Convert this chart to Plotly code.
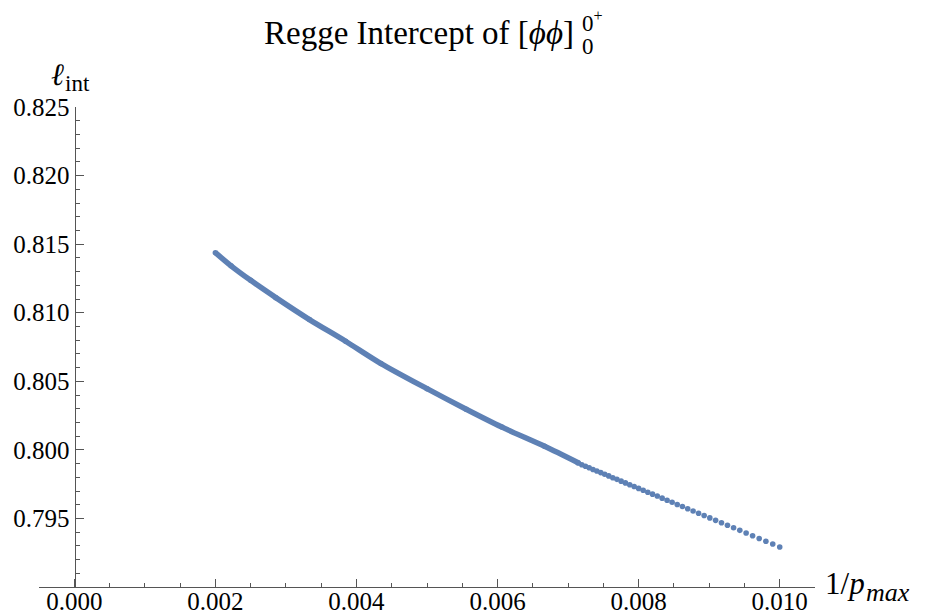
import plotly.graph_objects as go

# Regge intercept data
# sparse part: individual points at integer p_max
p_sparse = list(range(100, 141))
y_sparse = [0.79292, 0.79313, 0.79334, 0.79354, 0.79374, 0.79394, 0.79413, 0.79432,
            0.79450, 0.79468, 0.79486, 0.79504, 0.79521, 0.79538, 0.79554, 0.79571,
            0.79587, 0.79602, 0.79618, 0.79633, 0.79648, 0.79663, 0.79677, 0.79691,
            0.79705, 0.79719, 0.79733, 0.79746, 0.79759, 0.79772, 0.79785, 0.79797,
            0.79810, 0.79822, 0.79834, 0.79846, 0.79857, 0.79869, 0.79880, 0.79891,
            0.79904]
# dense part: points merge into a solid band; read at these p_max
p_dense = [140, 150, 165, 180, 200, 230, 260, 300, 350, 400, 450, 500]
y_dense = [0.79906, 0.80026, 0.80166, 0.80296, 0.80446, 0.80629, 0.80792, 0.80950,
           0.81110, 0.81236, 0.81342, 0.81438]

x_ticks = [0.000, 0.002, 0.004, 0.006, 0.008, 0.010]
x_ticklabels = ["0.000", "0.002", "0.004", "0.006", "0.008", "0.010"]
y_ticks = [0.795, 0.800, 0.805, 0.810, 0.815, 0.820, 0.825]
y_ticklabels = ["0.795", "0.800", "0.805", "0.810", "0.815", "0.820", "0.825"]

COLOR = "#5E81B5"
FONT = "Liberation Serif, Times New Roman, DejaVu Serif, serif"

fig = go.Figure()
fig.add_trace(go.Scatter(
    x=[1.0 / p for p in p_dense], y=y_dense, mode="lines+markers",
    line=dict(color=COLOR, width=5.5, shape="spline", smoothing=0.8),
    marker=dict(color=COLOR, size=5.5), hoverinfo="skip", showlegend=False))
fig.add_trace(go.Scatter(
    x=[1.0 / p for p in p_sparse], y=y_sparse, mode="markers",
    marker=dict(color=COLOR, size=5.6, line=dict(width=0)), showlegend=False))

# plot area in window pixels (page body has an 8px margin)
OFF = 8
L, R, T, B = 39.3, 815.2, 107.2, 586.7
W, H = 925 - OFF, 614 - OFF

def px(x):
    return (x - L) / (R - L)

def py(y):
    return (B - y) / (B - T)

axis_col = "#555555"
fig.update_layout(
    width=W, height=H,
    margin=dict(l=L - OFF, r=W - (R - OFF), t=T - OFF, b=H - (B - OFF), pad=0),
    paper_bgcolor="white", plot_bgcolor="white",
    font=dict(family=FONT, size=25, color="black"),
    xaxis=dict(range=[-0.0005, 0.0105], showgrid=False, zeroline=False,
               automargin=False,
               showline=True, linecolor=axis_col, linewidth=1,
               tickvals=x_ticks, ticktext=x_ticklabels,
               ticks="inside", ticklen=8, tickcolor=axis_col, tickwidth=1,
               ticklabelstandoff=-8,
               minor=dict(ticks="inside", ticklen=4.5, dtick=0.0005, tick0=0,
                          tickcolor=axis_col, showgrid=False),
               tickfont=dict(family=FONT, size=25), fixedrange=True),
    yaxis=dict(range=[0.790, 0.825], showgrid=False, zeroline=False,
               automargin=False,
               showline=True, linecolor=axis_col, linewidth=1,
               anchor="free", position=px(74.9), side="left",
               tickvals=y_ticks, ticktext=y_ticklabels,
               ticks="inside", ticklen=8, tickcolor=axis_col, tickwidth=1,
               minor=dict(ticks="inside", ticklen=4.5, dtick=0.001, tick0=0.79,
                          tickcolor=axis_col, showgrid=False),
               tickfont=dict(family=FONT, size=25), fixedrange=True),
)

def note(text, x, y, size, xanchor="left"):
    return dict(text=text, x=px(x), y=py(y), xref="paper", yref="paper",
                xanchor=xanchor, yanchor="middle", showarrow=False,
                font=dict(family=FONT, size=size))

ann = [
    # title
    note("Regge Intercept of [<i>ϕϕ</i>]", 419, 33, 33, xanchor="center"),
    note("0<sup>+</sup>", 580, 22, 23),
    note("0", 580, 47, 23),
    # y label
    note("<i>ℓ</i>", 49, 75, 31),
    note("int", 63, 84, 23),
    # x label
    note("1/<i>p</i>", 823, 583, 31),
    note("<i>max</i>", 864, 592, 26),
]
fig.update_layout(annotations=ann)

fig.write_html("out.html")
